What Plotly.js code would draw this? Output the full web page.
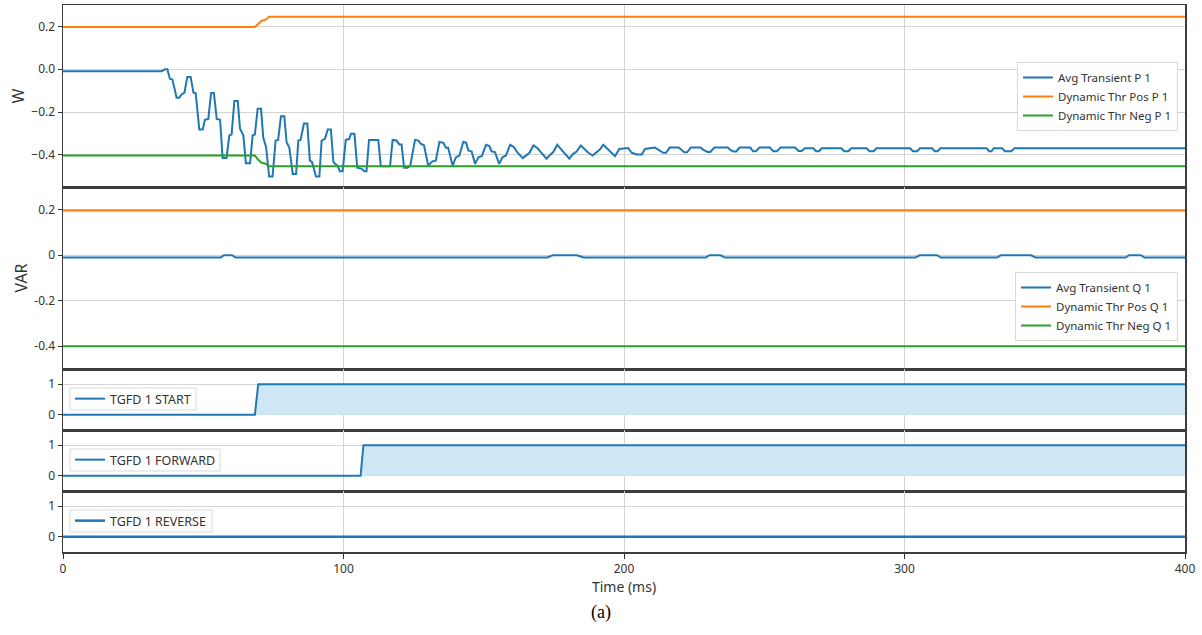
<!DOCTYPE html>
<html><head><meta charset="utf-8">
<script src="https://cdn.plot.ly/plotly-3.0.1.min.js"></script>
<style>body{margin:0;background:#fff}#chart{width:1202px;height:635px}</style>
</head><body><div id="chart"></div>
<script>
// ---- Panel 1: active power (W) ----
const pTime = [0,35.2,36.4,37.2,38.1,39.0,40.5,41.4,42.3,43.3,44.3,45.5,46.5,47.3,48.6,49.8,50.6,51.8,52.8,53.8,54.8,56.0,56.9,58.3,59.3,60.1,61.1,62.3,63.1,64.3,65.2,66.7,67.6,68.4,69.4,70.6,71.4,72.4,73.5,74.7,75.8,76.7,77.7,78.9,79.7,80.7,81.9,83.1,83.9,84.7,85.9,87.1,88.0,88.8,90.2,91.4,92.2,93.4,94.4,95.5,96.4,97.8,98.7,99.7,100.8,102.0,102.7,103.9,104.9,106.5,107.4,108.2,109.1,112.4,113.3,116.6,117.5,118.9,119.9,120.7,121.6,122.8,123.8,125.5,126.7,127.5,128.7,130.2,131.7,132.9,134.2,135.6,136.5,137.3,138.9,140.1,141.3,142.7,143.7,144.5,145.7,146.9,148.1,149.3,150.8,152.0,152.8,154.0,155.5,156.7,157.9,159.4,160.8,161.7,163.9,165.1,166.3,167.7,169.1,170.1,172.4,173.6,174.8,176.2,177.8,179.0,180.5,181.9,183.1,184.6,186.1,187.3,188.8,190.2,191.4,192.6,194.0,195.0,196.8,198.3,201.5,202.7,204.5,206.3,207.5,211.0,212.5,214.0,215.0,216.3,219.5,220.5,221.5,222.5,223.8,227.3,228.5,229.8,230.8,232.2,237.0,238.0,239.0,240.0,241.2,245.0,246.0,247.0,248.3,252.0,253.2,254.5,255.8,261.0,262.2,263.3,264.5,267.5,268.5,269.5,270.5,277.5,278.5,280.0,281.0,286.5,287.5,289.0,290.0,302.0,303.0,304.5,305.5,309.8,310.8,311.8,312.8,329.3,330.2,331.0,331.8,334.8,335.8,338.0,339.2,400];
const pAvg = [-0.009,-0.009,0.0,0.0,-0.044,-0.048,-0.133,-0.133,-0.118,-0.109,-0.036,-0.036,-0.109,-0.112,-0.281,-0.281,-0.236,-0.232,-0.111,-0.111,-0.232,-0.236,-0.414,-0.414,-0.309,-0.305,-0.148,-0.148,-0.278,-0.309,-0.439,-0.439,-0.309,-0.305,-0.184,-0.184,-0.320,-0.364,-0.501,-0.501,-0.333,-0.330,-0.220,-0.220,-0.340,-0.367,-0.489,-0.489,-0.333,-0.330,-0.254,-0.254,-0.426,-0.434,-0.501,-0.501,-0.333,-0.325,-0.281,-0.281,-0.434,-0.450,-0.476,-0.476,-0.330,-0.326,-0.301,-0.301,-0.460,-0.465,-0.476,-0.476,-0.330,-0.330,-0.453,-0.453,-0.330,-0.333,-0.351,-0.351,-0.460,-0.460,-0.450,-0.330,-0.333,-0.348,-0.355,-0.450,-0.430,-0.427,-0.340,-0.344,-0.367,-0.367,-0.450,-0.411,-0.403,-0.340,-0.343,-0.379,-0.384,-0.442,-0.411,-0.406,-0.353,-0.359,-0.384,-0.387,-0.442,-0.411,-0.403,-0.353,-0.364,-0.384,-0.415,-0.403,-0.390,-0.356,-0.368,-0.384,-0.418,-0.400,-0.387,-0.353,-0.375,-0.395,-0.418,-0.395,-0.384,-0.356,-0.375,-0.390,-0.403,-0.387,-0.375,-0.353,-0.372,-0.384,-0.406,-0.372,-0.368,-0.390,-0.398,-0.398,-0.372,-0.366,-0.378,-0.390,-0.390,-0.366,-0.366,-0.378,-0.388,-0.388,-0.366,-0.366,-0.378,-0.386,-0.386,-0.366,-0.366,-0.378,-0.384,-0.384,-0.366,-0.366,-0.383,-0.383,-0.366,-0.366,-0.383,-0.383,-0.366,-0.366,-0.382,-0.382,-0.369,-0.369,-0.383,-0.383,-0.369,-0.369,-0.383,-0.383,-0.369,-0.369,-0.383,-0.383,-0.369,-0.369,-0.383,-0.383,-0.369,-0.369,-0.383,-0.383,-0.369,-0.369,-0.383,-0.383,-0.369,-0.369,-0.383,-0.383,-0.369,-0.369];
const pThrTime = [0,68.4,69.6,70.8,72.0,73.5,400];
const pThrPos = [0.197,0.197,0.211,0.226,0.230,0.245,0.245];
const pThrNeg = [-0.403,-0.403,-0.423,-0.437,-0.440,-0.453,-0.453];

// ---- Panel 2: reactive power (VAR) ----
const qTime = [0,56.2,57.4,60.3,61.5,172.6,174.6,183.2,185.6,229.1,230.5,234.4,236.0,303.9,305.4,311.6,313.0,332.9,334.4,345.1,346.7,378.8,380.1,384.2,385.6,400];
const qAvg = [-0.01,-0.01,0,0,-0.01,-0.01,0,0,-0.01,-0.01,0,0,-0.01,-0.01,0,0,-0.01,-0.01,0,0,-0.01,-0.01,0,0,-0.01,-0.01];
const qThrTime = [0,400];
const qThrPos = [0.197,0.197];
const qThrNeg = [-0.4,-0.4];

// ---- Panels 3-5: TGFD flags ----
const startTime = [0,68.4,69.6,400];
const startVal = [0,0,1,1];
const fwdTime = [0,106.1,107.1,400];
const fwdVal = [0,0,1,1];
const revTime = [0,400];
const revVal = [0,0];

// tick labels
const xTicks = [0,100,200,300,400];
const pTickVals = [0.2,0,-0.2,-0.4];
const pTickText = ['0.2','0.0','\u22120.2','\u22120.4'];
const qTickVals = [0.2,0,-0.2,-0.4];
const qTickText = ['0.2','0','-0.2','-0.4'];
const flagTickVals = [0,1];
const flagTickText = ['0','1'];

const BLUE='#1f77b4', ORANGE='#ff7f0e', GREEN='#2ca02c', FILL='#cfe7f4';
const FONT='Noto Sans';

const traces = [
  {x:pTime,y:pAvg,name:'Avg Transient P 1',xaxis:'x',yaxis:'y',mode:'lines',line:{color:BLUE,width:2},legend:'legend'},
  {x:pThrTime,y:pThrPos,name:'Dynamic Thr Pos P 1',xaxis:'x',yaxis:'y',mode:'lines',line:{color:ORANGE,width:2},legend:'legend'},
  {x:pThrTime,y:pThrNeg,name:'Dynamic Thr Neg P 1',xaxis:'x',yaxis:'y',mode:'lines',line:{color:GREEN,width:2},legend:'legend'},
  {x:qTime,y:qAvg,name:'Avg Transient Q 1',xaxis:'x2',yaxis:'y2',mode:'lines',line:{color:BLUE,width:2},legend:'legend2'},
  {x:qThrTime,y:qThrPos,name:'Dynamic Thr Pos Q 1',xaxis:'x2',yaxis:'y2',mode:'lines',line:{color:ORANGE,width:2},legend:'legend2'},
  {x:qThrTime,y:qThrNeg,name:'Dynamic Thr Neg Q 1',xaxis:'x2',yaxis:'y2',mode:'lines',line:{color:GREEN,width:2},legend:'legend2'},
  {x:startTime,y:startVal,xaxis:'x3',yaxis:'y3',mode:'lines',fill:'tozeroy',fillcolor:FILL,line:{width:0},showlegend:false,hoverinfo:'skip'},
  {x:startTime,y:startVal,name:'TGFD 1 START',xaxis:'x3',yaxis:'y3',mode:'lines',line:{color:BLUE,width:2},legend:'legend3'},
  {x:fwdTime,y:fwdVal,xaxis:'x4',yaxis:'y4',mode:'lines',fill:'tozeroy',fillcolor:FILL,line:{width:0},showlegend:false,hoverinfo:'skip'},
  {x:fwdTime,y:fwdVal,name:'TGFD 1 FORWARD',xaxis:'x4',yaxis:'y4',mode:'lines',line:{color:BLUE,width:2},legend:'legend4'},
  {x:revTime,y:revVal,name:'TGFD 1 REVERSE',xaxis:'x5',yaxis:'y5',mode:'lines',line:{color:BLUE,width:2.5},legend:'legend5'}
];

const H=547, W=1122;
function dom(y0,y1){ return [(552-y1)/H,(552-y0)/H]; }
const doms = [dom(5,187),dom(187,369),dom(369,430),dom(430,491),dom(491,552)];
const px = v => (v-63)/W, py = v => (552-v)/H;

const common = {showline:true,mirror:true,linecolor:'#3d3d3d',linewidth:1.5,showgrid:true,gridcolor:'#d3d3d3',gridwidth:1,zeroline:false,
  tickfont:{family:FONT,size:12,color:'#333'},ticks:'outside',ticklen:4,tickcolor:'#333',tickwidth:1};

// legend frames for the flag panels (compact boxes)
const frame = (x0,x1,y0,y1)=>({type:'rect',xref:'paper',yref:'paper',x0:px(x0),x1:px(x1),y0:py(y1),y1:py(y0),
  fillcolor:'rgba(255,255,255,0.92)',line:{color:'#d9d9d9',width:1},layer:'between'});

const layout = {
  width:1202,height:635,margin:{l:63,r:17,t:5,b:83},
  paper_bgcolor:'#fff',plot_bgcolor:'#fff',
  font:{family:FONT,color:'#333'},
  shapes:[frame(70,196,388,410),frame(70,220,449,471),frame(70,212,510,532)],
  annotations:[{text:'(a)',xref:'paper',yref:'paper',x:px(601),y:py(612),xanchor:'center',yanchor:'middle',showarrow:false,font:{family:'Liberation Serif',size:18,color:'#000'}}]
};
const yRanges=[[-0.55,0.3],[-0.5,0.3],[-0.5,1.5],[-0.5,1.5],[-0.5,1.5]];
const yTV=[pTickVals,qTickVals,flagTickVals,flagTickVals,flagTickVals];
const yTT=[pTickText,qTickText,flagTickText,flagTickText,flagTickText];
const yTitles=['W','VAR','','',''];
for(let i=0;i<5;i++){
  const xs = i===0?'xaxis':'xaxis'+(i+1);
  const ys = i===0?'yaxis':'yaxis'+(i+1);
  const yid = i===0?'y':'y'+(i+1);
  layout[xs] = Object.assign({},common,{domain:[0,1],anchor:yid,range:[0,400],tickvals:xTicks,ticktext:xTicks.map(String),
    showticklabels:i===4,ticks:i===4?'outside':'',ticklen:5});
  if(i>0) layout[xs].matches='x';
  if(i===4) layout[xs].title={text:'Time (ms)',font:{family:FONT,size:14,color:'#333'},standoff:4};
  layout[ys] = Object.assign({},common,{domain:doms[i],anchor:i===0?'x':'x'+(i+1),range:yRanges[i],tickvals:yTV[i],ticktext:yTT[i]});
  if(yTitles[i]) layout[ys].title={text:yTitles[i],font:{family:FONT,size:16,color:'#333'},standoff:2};
}
const lg = {bgcolor:'rgba(255,255,255,0.92)',bordercolor:'#d9d9d9',borderwidth:1,font:{family:FONT,size:11.5,color:'#333'},tracegroupgap:0};
const lgFlag = {bgcolor:'rgba(0,0,0,0)',borderwidth:0,font:{family:FONT,size:12.5,color:'#333'},tracegroupgap:0};
layout.legend = Object.assign({},lg,{x:px(1178),xanchor:'right',y:py(62),yanchor:'top'});
layout.legend2 = Object.assign({},lg,{x:px(1178),xanchor:'right',y:py(272),yanchor:'top'});
layout.legend3 = Object.assign({},lgFlag,{x:px(70),xanchor:'left',y:py(384),yanchor:'top'});
layout.legend4 = Object.assign({},lgFlag,{x:px(70),xanchor:'left',y:py(445),yanchor:'top'});
layout.legend5 = Object.assign({},lgFlag,{x:px(70),xanchor:'left',y:py(506),yanchor:'top'});

Plotly.newPlot('chart',traces,layout,{displayModeBar:false,staticPlot:true});
</script></body></html>
